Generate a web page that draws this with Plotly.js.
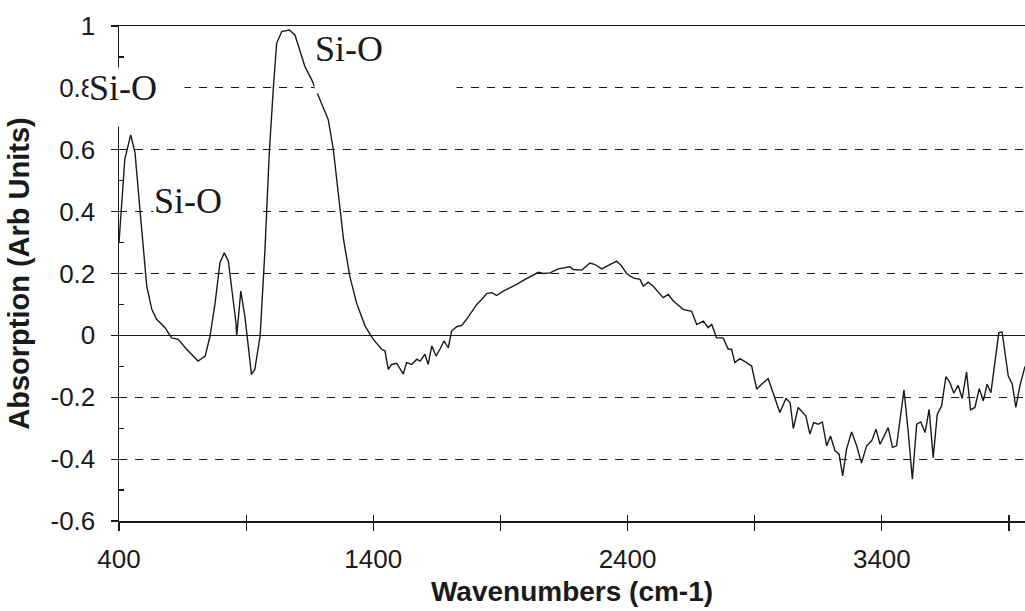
<!DOCTYPE html>
<html>
<head>
<meta charset="utf-8">
<script src="https://cdn.plot.ly/plotly-3.0.1.min.js"></script>
<style>
  html, body { margin: 0; padding: 0; background: #fff; }
  #chart { width: 1025px; height: 611px; }
</style>
</head>
<body>
<div id="chart"></div>
<script>
// Wavenumbers (cm-1)
const wavenumbers = [
  400, 423, 446, 463, 482, 495, 509, 529, 548, 581, 607, 633, 666, 711, 739, 758,
  778, 797, 814, 830, 843, 860, 863, 879, 895, 921, 934, 955, 974, 991,
  1007, 1020, 1040, 1070, 1092, 1111, 1131, 1158, 1191, 1223, 1243, 1263, 1283,
  1308, 1334, 1368, 1400, 1433, 1446, 1459, 1472, 1492, 1518, 1531, 1551, 1571,
  1584, 1603, 1616, 1630, 1647, 1662, 1678, 1695, 1708, 1728, 1748, 1767, 1787,
  1807, 1826, 1846, 1866, 1885, 1911, 1938, 1964, 1990, 2016, 2049, 2069, 2095,
  2127, 2173, 2186, 2220, 2252, 2272, 2298, 2331, 2357, 2377, 2396, 2422, 2449,
  2462, 2481, 2501, 2540, 2560, 2580, 2619, 2652, 2672, 2698, 2717, 2731, 2750,
  2776, 2796, 2809, 2822, 2842, 2868, 2888, 2908, 2927, 2953, 2973, 2999, 3023,
  3039, 3052, 3071, 3101, 3117, 3132, 3150, 3166, 3183, 3198, 3216, 3232, 3246,
  3261, 3281, 3301, 3320, 3340, 3360, 3377, 3393, 3425, 3442, 3458, 3487, 3504,
  3520, 3537, 3553, 3570, 3586, 3602, 3618, 3635, 3652, 3668, 3683, 3700, 3716,
  3733, 3749, 3766, 3783, 3799, 3814, 3829, 3845, 3860, 3873, 3884, 3897, 3913,
  3927, 3943, 3963
];
// Absorption (Arb Units)
const absorption = [
  0.30, 0.57, 0.648, 0.59, 0.41, 0.28, 0.16, 0.084, 0.052, 0.025, -0.008, -0.013, -0.045, -0.083, -0.067, -0.002,
  0.105, 0.235, 0.267, 0.24, 0.16, 0.041, -0.002, 0.143, 0.062, -0.126, -0.11, -0.002, 0.277, 0.59,
  0.80, 0.944, 0.982, 0.987, 0.971, 0.923, 0.869, 0.826, 0.761, 0.697, 0.60, 0.46, 0.31,
  0.19, 0.105, 0.03, -0.013, -0.045, -0.05, -0.11, -0.094, -0.09, -0.125, -0.088, -0.094, -0.077,
  -0.083, -0.061, -0.094, -0.034, -0.067, -0.045, -0.018, -0.04, 0.014, 0.028, 0.032, 0.052, 0.078,
  0.10, 0.116, 0.135, 0.138, 0.129, 0.143, 0.154, 0.165, 0.178, 0.189, 0.204, 0.20, 0.202,
  0.215, 0.222, 0.213, 0.211, 0.234, 0.229, 0.215, 0.229, 0.24, 0.224, 0.20, 0.186, 0.181,
  0.159, 0.172, 0.159, 0.122, 0.132, 0.111, 0.084, 0.078, 0.035, 0.046, 0.025, 0.035, -0.008,
  -0.008, -0.045, -0.045, -0.088, -0.075, -0.088, -0.099, -0.174, -0.158, -0.14, -0.185, -0.249, -0.204,
  -0.217, -0.301, -0.233, -0.26, -0.319, -0.282, -0.287, -0.28, -0.357, -0.325, -0.373, -0.384, -0.454,
  -0.368, -0.312, -0.357, -0.413, -0.357, -0.341, -0.303, -0.352, -0.298, -0.362, -0.357, -0.176, -0.314,
  -0.465, -0.287, -0.28, -0.314, -0.239, -0.395, -0.255, -0.228, -0.133, -0.153, -0.187, -0.161, -0.204,
  -0.118, -0.241, -0.233, -0.172, -0.212, -0.158, -0.185, -0.075, 0.009, 0.011, -0.056, -0.131, -0.158,
  -0.233, -0.163, -0.10
];

const xTickVals = [400, 900, 1400, 1900, 2400, 2900, 3400, 3900];
const xTickText = ['400', '', '1400', '', '2400', '', '3400', ''];
const yTickVals = [-0.6, -0.4, -0.2, 0, 0.2, 0.4, 0.6, 0.8, 1];
const yTickText = ['-0.6', '-0.4', '-0.2', '0', '0.2', '0.4', '0.6', '0.8', '1'];
const yMinorVals = [-0.6, -0.5, -0.4, -0.3, -0.2, -0.1, 0, 0.1, 0.2, 0.3, 0.4, 0.5, 0.6, 0.7, 0.8, 0.9, 1];

// band labels (positions in paper fractions of the plot area)
const bandLabels = ['Si-O', 'Si-O', 'Si-O'];
const bandX = [0.2152, -0.0342, 0.0375];
const bandY = [0.996, 0.917, 0.689];
const boxW = [141, 95, 106];
const boxH = [64, 58, 60];

const xRange = [400, 3963];
const yRange = [-0.6, 1];
const ink = '#1a1a1a';
const sans = 'Liberation Sans, Arial, sans-serif';
const serif = 'Liberation Serif, Times New Roman, serif';

const traces = [
  {
    x: wavenumbers, y: absorption, type: 'scatter', mode: 'lines',
    line: { color: ink, width: 1.4 }, hoverinfo: 'x+y', showlegend: false
  },
  {
    x: wavenumbers, y: absorption, type: 'scatter', mode: 'lines',
    xaxis: 'x2', yaxis: 'y2', opacity: 0,
    line: { color: ink, width: 0.1 }, hoverinfo: 'skip', showlegend: false
  }
];

const annotations = bandLabels.map((t, i) => ({
  text: t, xref: 'paper', yref: 'paper', x: bandX[i], y: bandY[i],
  xanchor: 'left', yanchor: 'top', showarrow: false,
  width: boxW[i], height: boxH[i], align: 'left', valign: 'top',
  bgcolor: '#ffffff', borderpad: 0,
  font: { family: serif, size: 36, color: ink }
}));

const layout = {
  width: 1025, height: 611,
  margin: { l: 119, r: 0, t: 26, b: 90, pad: 0 },
  paper_bgcolor: '#ffffff', plot_bgcolor: '#ffffff',
  showlegend: false,
  xaxis: {
    range: xRange, showline: true, linecolor: ink, linewidth: 1.5, mirror: true,
    tickmode: 'array', tickvals: xTickVals, ticktext: xTickText,
    ticks: 'outside', ticklen: 8, tickwidth: 1.2, tickcolor: ink,
    ticklabelstandoff: 6,
    tickfont: { family: sans, size: 26, color: ink },
    showgrid: false, zeroline: false,
    title: { text: 'Wavenumbers (cm-1)', standoff: 8,
             font: { family: sans, size: 28, color: ink, weight: 'bold' } }
  },
  yaxis: {
    range: yRange, showline: true, linecolor: ink, linewidth: 1.5,
    tickmode: 'array', tickvals: yTickVals, ticktext: yTickText,
    ticks: 'outside', ticklen: 7, tickwidth: 1.2, tickcolor: ink,
    ticklabelstandoff: 10,
    tickfont: { family: sans, size: 26, color: ink },
    showgrid: true, gridcolor: ink, gridwidth: 1.1, griddash: '8px,8px',
    zeroline: true, zerolinecolor: ink, zerolinewidth: 1.3,
    title: { text: 'Absorption (Arb Units)', standoff: 12,
             font: { family: sans, size: 29, color: ink, weight: 'bold' } }
  },
  xaxis2: {
    range: xRange, overlaying: 'x', anchor: 'y', side: 'bottom',
    tickmode: 'array', tickvals: xTickVals, showticklabels: false,
    ticks: 'inside', ticklen: 6, tickwidth: 1.2, tickcolor: ink,
    showline: false, showgrid: false, zeroline: false
  },
  yaxis2: {
    range: yRange, overlaying: 'y', anchor: 'x', side: 'left',
    tickmode: 'array', tickvals: yMinorVals, showticklabels: false,
    ticks: 'inside', ticklen: 5, tickwidth: 1.2, tickcolor: ink,
    showline: false, showgrid: false, zeroline: false
  },
  annotations: annotations
};

Plotly.newPlot('chart', traces, layout, { displayModeBar: false, staticPlot: true });
</script>
</body>
</html>
